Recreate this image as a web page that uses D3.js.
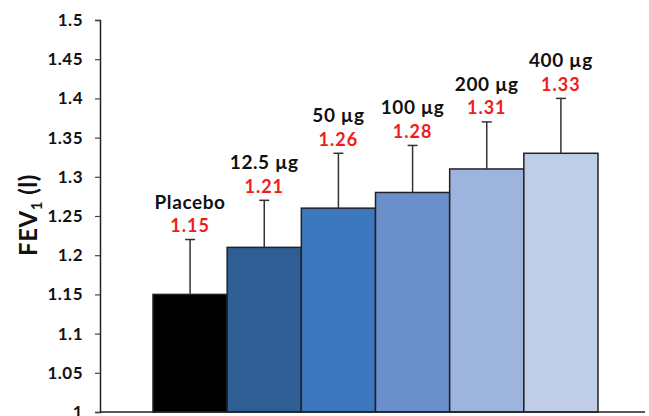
<!DOCTYPE html>
<html lang="en">
<head>
<meta charset="utf-8">
<title>FEV1 bars</title>
<script src="https://cdn.jsdelivr.net/npm/d3@7"></script>
<style>
  body { margin: 0; background: #fff; }
  svg text { font-family: Lato, "DejaVu Sans", sans-serif; font-weight: bold; }
</style>
</head>
<body>
<script>
// data
var doses = ["Placebo", "12.5 \u00b5g", "50 \u00b5g", "100 \u00b5g", "200 \u00b5g", "400 \u00b5g"];
var means = [1.15, 1.21, 1.26, 1.28, 1.31, 1.33];
var upper = [1.22, 1.27, 1.33, 1.34, 1.37, 1.40];
var barColors = ["#000000", "#2f5e95", "#3d78bf", "#6a8fca", "#9db4dc", "#bfcde7"];
var yTicks = [1, 1.05, 1.1, 1.15, 1.2, 1.25, 1.3, 1.35, 1.4, 1.45, 1.5];

var w = 649, h = 416;
var axisX = 100;

var svg = d3.select("body").append("svg")
  .attr("width", w)
  .attr("height", h);

var yScale = d3.scaleLinear()
  .domain([1, 1.5])
  .range([412, 20]);

var xScale = d3.scaleBand()
  .domain(doses)
  .range([153, 598])
  .padding(0);

var rows = doses.map(function(d, i) {
  return { dose: d, mean: means[i], up: upper[i], color: barColors[i] };
});

// bars
svg.selectAll("rect.bar")
  .data(rows)
  .enter()
  .append("rect")
  .attr("class", "bar")
  .attr("x", function(d) { return xScale(d.dose); })
  .attr("y", function(d) { return yScale(d.mean); })
  .attr("width", xScale.bandwidth())
  .attr("height", function(d) { return yScale(1) - yScale(d.mean); })
  .attr("fill", function(d) { return d.color; })
  .attr("stroke", "#222")
  .attr("stroke-width", 1.5);

// error bars (upper only)
var err = svg.selectAll("g.err")
  .data(rows)
  .enter()
  .append("g")
  .attr("class", "err")
  .attr("stroke", "#333")
  .attr("stroke-width", 1.5);

err.append("line")
  .attr("x1", function(d) { return xScale(d.dose) + xScale.bandwidth() / 2; })
  .attr("x2", function(d) { return xScale(d.dose) + xScale.bandwidth() / 2; })
  .attr("y1", function(d) { return yScale(d.mean); })
  .attr("y2", function(d) { return yScale(d.up); });

err.append("line")
  .attr("x1", function(d) { return xScale(d.dose) + xScale.bandwidth() / 2 - 5; })
  .attr("x2", function(d) { return xScale(d.dose) + xScale.bandwidth() / 2 + 5; })
  .attr("y1", function(d) { return yScale(d.up); })
  .attr("y2", function(d) { return yScale(d.up); });

// labels above error bars
svg.selectAll("text.val")
  .data(rows)
  .enter()
  .append("text")
  .attr("class", "val")
  .attr("x", function(d) { return xScale(d.dose) + xScale.bandwidth() / 2; })
  .attr("y", function(d) { return yScale(d.up) - 7.5; })
  .attr("text-anchor", "middle")
  .attr("fill", "#ee1c1c")
  .style("font-size", "18px")
  .style("letter-spacing", "1px")
  .text(function(d) { return d3.format(".2f")(d.mean); });

svg.selectAll("text.dose")
  .data(rows)
  .enter()
  .append("text")
  .attr("class", "dose")
  .attr("x", function(d) { return xScale(d.dose) + xScale.bandwidth() / 2; })
  .attr("y", function(d) { return yScale(d.up) - 31; })
  .attr("text-anchor", "middle")
  .attr("fill", "#111")
  .style("font-size", "19px")
  .style("letter-spacing", "0.6px")
  .text(function(d) { return d.dose; });

// y axis
var yAxis = d3.axisLeft(yScale)
  .tickValues(yTicks)
  .tickSize(5)
  .tickPadding(12)
  .tickFormat(function(d) { return d3.format("")(+d.toFixed(2)); });

var gy = svg.append("g")
  .attr("transform", "translate(" + axisX + ",0)")
  .call(yAxis);
gy.select(".domain").attr("stroke", "#222").attr("stroke-width", 1.5);
gy.selectAll(".tick line").attr("stroke", "#444").attr("stroke-width", 1.2);
gy.selectAll(".tick text")
  .attr("fill", "#111")
  .style("font-size", "17px")
  .style("letter-spacing", "0.5px")
  .style("font-family", "Lato, sans-serif")
  .style("font-weight", "bold");

// x axis line
svg.append("line")
  .attr("x1", axisX)
  .attr("x2", 645)
  .attr("y1", yScale(1))
  .attr("y2", yScale(1))
  .attr("stroke", "#222")
  .attr("stroke-width", 1.5);

// y title
var title = svg.append("text")
  .attr("transform", "translate(37,215) rotate(-90)")
  .attr("text-anchor", "middle")
  .attr("fill", "#111")
  .style("font-size", "24px")
  .style("letter-spacing", "0.5px");
title.append("tspan").text("FEV");
title.append("tspan").attr("dy", 5).style("font-size", "15px").text("1");
title.append("tspan").attr("dy", -5).text(" (l)");
</script>
</body>
</html>
